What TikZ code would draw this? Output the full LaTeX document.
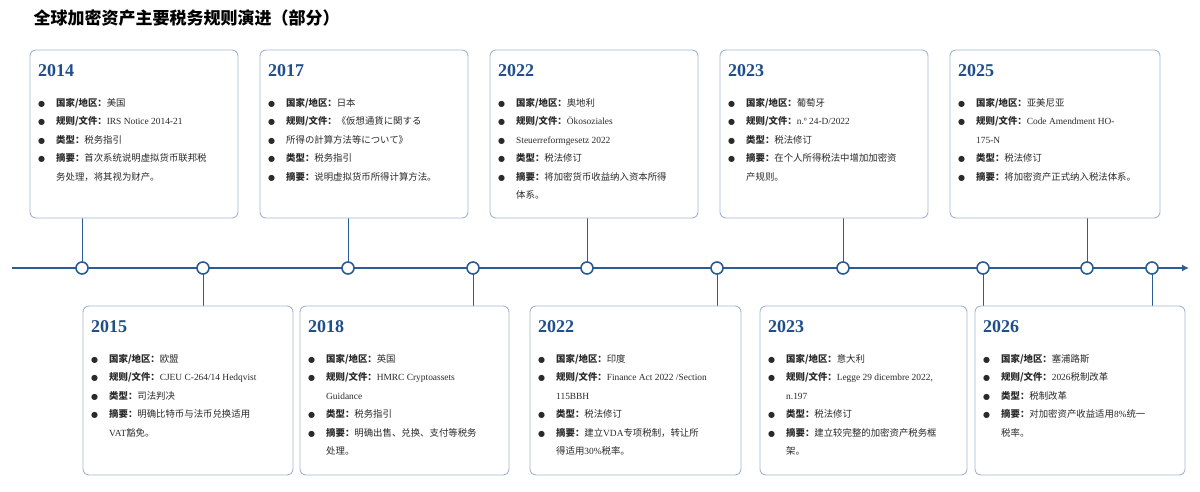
\documentclass[tikz,border=0pt]{standalone}
\usepackage{fontspec}
\setmainfont{Liberation Serif}
\newfontfamily\cj{Noto Sans CJK SC}
\newfontfamily\dvsym{DejaVu Sans}
\usetikzlibrary{arrows.meta}
\definecolor{mb}{HTML}{2B5C96}
\definecolor{yb}{HTML}{1F4E8C}
\definecolor{bd}{HTML}{A3B6D0}
\definecolor{tx}{HTML}{2A2A2A}
\newcommand\bl[1]{\makebox[18pt][l]{\raisebox{0.3pt}{\dvsym\fontsize{8}{8}\selectfont ●}}#1}
\newcommand\cl[1]{\hspace*{18pt}#1}
\newcommand\lb[1]{{\cj\bfseries #1}}
\newcommand\zh[1]{{\cj #1}}
\tikzset{
 card/.style={draw=bd,line width=0.9pt,rounded corners=6pt,fill=white},
 yr/.style={anchor=north west,text=yb,font=\fontsize{18}{18}\selectfont\bfseries,inner sep=0pt},
 body/.style={anchor=north west,align=left,text=tx,font=\fontsize{9.4}{18.5}\selectfont,inner sep=0pt},
 dot/.style={circle,draw=mb,line width=1.6pt,fill=white,minimum size=12pt,inner sep=0pt},
 con/.style={draw=mb,line width=1pt}
}
\newcommand\card[7]{% name x1 y1 x2 y2 year body
 \draw[card] (#2,#3) rectangle (#4,#5);
 \node[yr] (#1y) at (#2+8,#3+14) {#6};
 \node[body] (#1b) at (#2+8,#3+48) {#7};
 \coordinate (#1t) at (#2,#3);
}
\begin{document}
\begin{tikzpicture}[x=1pt,y=-1pt]
\useasboundingbox (0,0) rectangle (1200,491);
\node[anchor=west,font=\cj\bfseries\fontsize{17}{17}\selectfont,text=black] (title) at (30,18) {全球加密资产主要税务规则演进（部分）};
% timeline
\coordinate (ls) at (12,268);
\coordinate (le) at (1189,268);
\draw[mb,line width=2pt,-{Latex[length=7pt,width=7pt]}] (ls) -- (le);
\foreach \n/\x in {c1/82,c2/203,c3/348,c4/473,c5/587,c6/717,c7/843,c8/983,c9/1087,c10/1152}
  \coordinate (\n) at (\x,268);
\foreach \n in {c1,c3,c5,c7,c9} \draw[con] (\n) -- ++(0,-50);
\foreach \n in {c2,c4,c6,c8,c10} \draw[con] (\n) -- ++(0,38);
\foreach \n in {c1,c2,c3,c4,c5,c6,c7,c8,c9,c10} \node[dot] at (\n) {};
% top cards
\card{a}{30}{50}{238}{218}{2014}{\bl{\lb{国家/地区：}\zh{美国}}\\
\bl{\lb{规则/文件：}IRS Notice 2014-21}\\
\bl{\lb{类型：}\zh{税务指引}}\\
\bl{\lb{摘要：}\zh{首次系统说明虚拟货币联邦税}}\\
\cl{\zh{务处理，将其视为财产。}}}
\card{b}{260}{50}{468}{218}{2017}{\bl{\lb{国家/地区：}\zh{日本}}\\
\bl{\lb{规则/文件：}\zh{《仮想通貨に関する}}\\
\bl{\zh{所得の計算方法等について》}}\\
\bl{\lb{类型：}\zh{税务指引}}\\
\bl{\lb{摘要：}\zh{说明虚拟货币所得计算方法。}}}
\card{c}{490}{50}{698}{218}{2022}{\bl{\lb{国家/地区：}\zh{奥地利}}\\
\bl{\lb{规则/文件：}Ökosoziales}\\
\bl{Steuerreformgesetz 2022}\\
\bl{\lb{类型：}\zh{税法修订}}\\
\bl{\lb{摘要：}\zh{将加密货币收益纳入资本所得}}\\
\cl{\zh{体系。}}}
\card{d}{720}{50}{928}{218}{2023}{\bl{\lb{国家/地区：}\zh{葡萄牙}}\\
\bl{\lb{规则/文件：}n.º 24-D/2022}\\
\bl{\lb{类型：}\zh{税法修订}}\\
\bl{\lb{摘要：}\zh{在个人所得税法中增加加密资}}\\
\cl{\zh{产规则。}}}
\card{e}{950}{50}{1160}{218}{2025}{\bl{\lb{国家/地区：}\zh{亚美尼亚}}\\
\bl{\lb{规则/文件：}Code Amendment HO-}\\
\cl{175-N}\\
\bl{\lb{类型：}\zh{税法修订}}\\
\bl{\lb{摘要：}\zh{将加密资产正式纳入税法体系。}}}
% bottom cards
\card{f}{83}{306}{293}{475}{2015}{\bl{\lb{国家/地区：}\zh{欧盟}}\\
\bl{\lb{规则/文件：}CJEU C-264/14 Hedqvist}\\
\bl{\lb{类型：}\zh{司法判决}}\\
\bl{\lb{摘要：}\zh{明确比特币与法币兑换适用}}\\
\cl{VAT\zh{豁免。}}}
\card{g}{300}{306}{509}{475}{2018}{\bl{\lb{国家/地区：}\zh{英国}}\\
\bl{\lb{规则/文件：}HMRC Cryptoassets}\\
\cl{Guidance}\\
\bl{\lb{类型：}\zh{税务指引}}\\
\bl{\lb{摘要：}\zh{明确出售、兑换、支付等税务}}\\
\cl{\zh{处理。}}}
\card{h}{530}{306}{741}{475}{2022}{\bl{\lb{国家/地区：}\zh{印度}}\\
\bl{\lb{规则/文件：}Finance Act 2022 /Section}\\
\cl{115BBH}\\
\bl{\lb{类型：}\zh{税法修订}}\\
\bl{\lb{摘要：}\zh{建立}VDA\zh{专项税制，转让所}}\\
\cl{\zh{得适用}30\%\zh{税率。}}}
\card{i}{760}{306}{967}{475}{2023}{\bl{\lb{国家/地区：}\zh{意大利}}\\
\bl{\lb{规则/文件：}Legge 29 dicembre 2022,}\\
\cl{n.197}\\
\bl{\lb{类型：}\zh{税法修订}}\\
\bl{\lb{摘要：}\zh{建立较完整的加密资产税务框}}\\
\cl{\zh{架。}}}
\card{j}{975}{306}{1185}{475}{2026}{\bl{\lb{国家/地区：}\zh{塞浦路斯}}\\
\bl{\lb{规则/文件：}2026\zh{税制改革}}\\
\bl{\lb{类型：}\zh{税制改革}}\\
\bl{\lb{摘要：}\zh{对加密资产收益适用}8\%\zh{统一}}\\
\cl{\zh{税率。}}}
\end{tikzpicture}
\end{document}
